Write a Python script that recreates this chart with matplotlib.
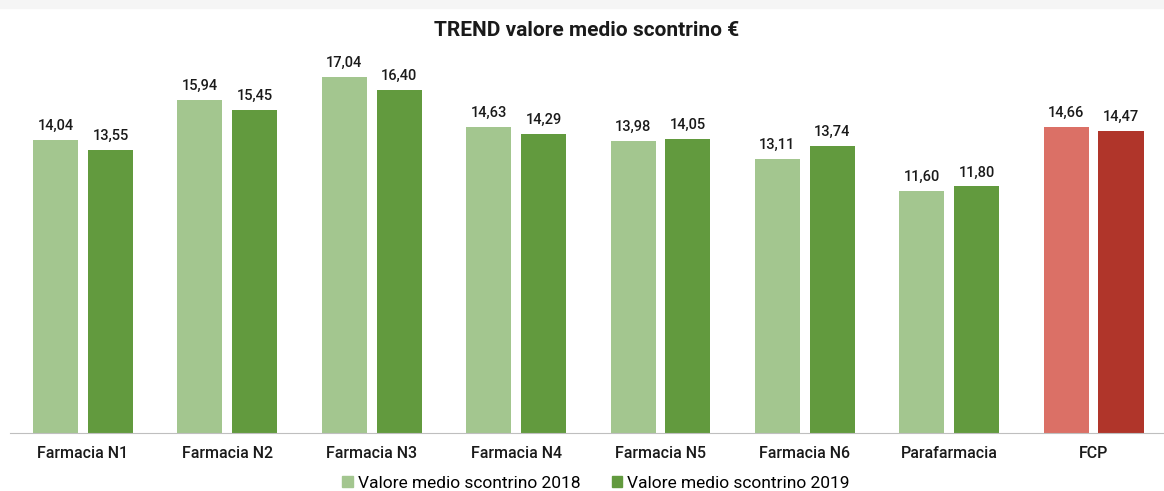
import numpy as np
import matplotlib.pyplot as plt
from matplotlib.patches import Rectangle

# dati
categorie = ['Farmacia N1', 'Farmacia N2', 'Farmacia N3', 'Farmacia N4',
             'Farmacia N5', 'Farmacia N6', 'Parafarmacia', 'FCP']
valori_2018 = [14.04, 15.94, 17.04, 14.63, 13.98, 13.11, 11.60, 14.66]
valori_2019 = [13.55, 15.45, 16.40, 14.29, 14.05, 13.74, 11.80, 14.47]
etichette = ['Valore medio scontrino 2018', 'Valore medio scontrino 2019']

col_2018 = ['#A3C68F'] * 7 + ['#DB7066']
col_2019 = ['#629A3E'] * 7 + ['#B0352A']

plt.rcParams['font.family'] = ['Roboto', 'DejaVu Sans']

fig = plt.figure(figsize=(11.64, 4.91), dpi=100)
fig.patches.append(Rectangle((0, 1 - 8 / 491), 1, 8 / 491, transform=fig.transFigure,
                             color='#F5F5F5', zorder=0))
ax = fig.add_axes([10 / 1164, 58 / 491, 1154 / 1164, 418 / 491])

x = np.arange(len(categorie))
w = 0.312
off = 0.19
b1 = ax.bar(x - off, valori_2018, w, color=col_2018)
b2 = ax.bar(x + off, valori_2019, w, color=col_2019)

for bars, vals in ((b1, valori_2018), (b2, valori_2019)):
    for b, v in zip(bars, vals):
        ax.annotate(f'{v:.2f}'.replace('.', ','), (b.get_x() + b.get_width() / 2, v),
                    xytext=(0, 5), textcoords='offset points', ha='center', va='bottom',
                    fontsize=10.5, fontweight='medium', color='#1a1a1a')

ax.set_xlim(-0.506, 7.488)
ax.set_ylim(0, 20)
ax.set_xticks(x)
ax.set_xticklabels(categorie, fontsize=11.5, fontweight='medium', color='#1a1a1a')
ax.tick_params(axis='x', length=0, pad=9)
ax.set_yticks([])
for s in ['top', 'right', 'left']:
    ax.spines[s].set_visible(False)
ax.spines['bottom'].set_color('#BFBFBF')

fig.text(587 / 1164, 1 - 30 / 491, 'TREND valore medio scontrino €', ha='center', va='center',
         fontsize=15, fontweight='bold', color='#1a1a1a')

handles = [Rectangle((0, 0), 1, 1, color='#A3C68F'), Rectangle((0, 0), 1, 1, color='#629A3E')]
fig.legend(handles, etichette, loc='center', bbox_to_anchor=(596 / 1164, 1 - 483 / 491),
           ncol=2, frameon=False, fontsize=12.5, handlelength=0.6, handleheight=0.6,
           handletextpad=0.3, columnspacing=1.8)

fig.savefig('out.png', dpi=100)
